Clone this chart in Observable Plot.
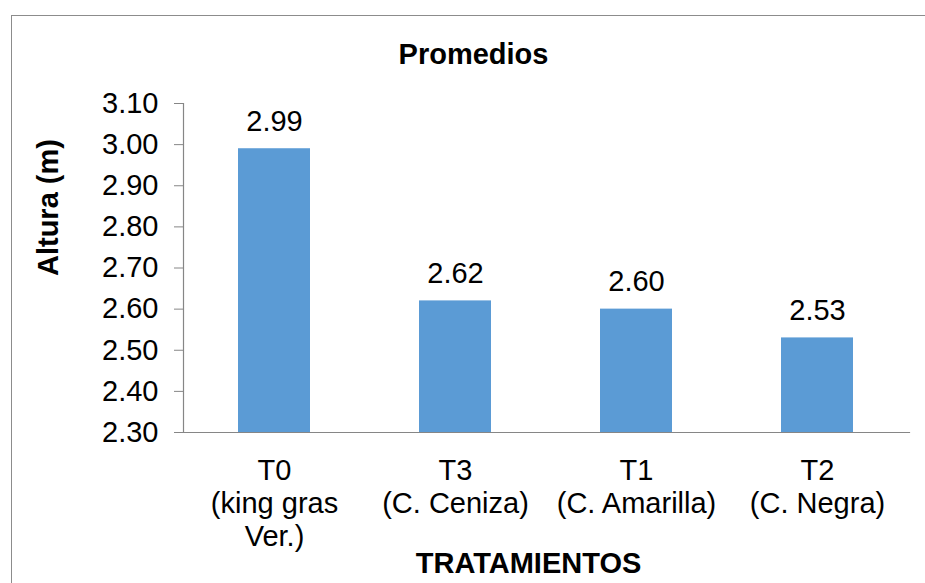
<!DOCTYPE html>
<html>
<head>
<meta charset="utf-8">
<script src="https://cdn.jsdelivr.net/npm/d3@7"></script>
<script src="https://cdn.jsdelivr.net/npm/@observablehq/plot@0.6"></script>
<style>
  html, body { margin: 0; padding: 0; background: #fff; }
  #wrap { position: relative; width: 925px; height: 583px; overflow: hidden; }
  #border { position: absolute; left: 11px; top: 15px; width: 940px; height: 600px;
            border: 1.5px solid #8c8c8c; box-sizing: border-box; pointer-events: none; }
</style>
</head>
<body>
<div id="wrap"><div id="border"></div></div>
<script>
const categories = ["T0", "T3", "T1", "T2"];
const categoryLabels = ["T0\n(king gras\nVer.)", "T3\n(C. Ceniza)", "T1\n(C. Amarilla)", "T2\n(C. Negra)"];
const values = [2.99, 2.62, 2.60, 2.53];
const yTicks = [2.30, 2.40, 2.50, 2.60, 2.70, 2.80, 2.90, 3.00, 3.10];
const title = "Promedios";
const yLabel = "Altura (m)";
const xLabel = "TRATAMIENTOS";

const data = categories.map((c, i) => ({cat: c, label: categoryLabels[i], value: values[i]}));
const labelOf = new Map(data.map(d => [d.cat, d.label]));

const chart = Plot.plot({
  width: 925,
  height: 583,
  marginLeft: 183,
  marginRight: 16,
  marginTop: 103,
  marginBottom: 151,
  style: {fontFamily: "'Liberation Sans', Arial, sans-serif", fontSize: "29px", color: "black", background: "transparent"},
  x: {domain: categories, paddingInner: 0.6, paddingOuter: 0.3},
  y: {domain: [2.3, 3.1]},
  marks: [
    Plot.barY(data, {x: "cat", y1: 2.3, y2: "value", fill: "#5B9BD5"}),
    Plot.frame({anchor: "left", stroke: "#868686", strokeWidth: 1.2}),
    Plot.frame({anchor: "bottom", stroke: "#868686", strokeWidth: 1.2}),
    Plot.axisY({ticks: yTicks, tickFormat: d3.format(".2f"), tickSize: 9, tickPadding: 16, stroke: "#868686", strokeOpacity: 1, fill: "black", label: null}),
    Plot.axisX({tickSize: 0, tickPadding: 24, tickFormat: d => labelOf.get(d), lineHeight: 1.14, fill: "black", label: null}),
    Plot.text(data, {x: "cat", y: "value", text: d => d3.format(".2f")(d.value), lineAnchor: "middle", dy: -27, fill: "black"}),
    Plot.text([title], {frameAnchor: "top", lineAnchor: "middle", dy: -49, dx: -73, fontWeight: "bold", fill: "black"}),
    Plot.text([yLabel], {frameAnchor: "left", rotate: -90, lineAnchor: "middle", dx: -135, dy: 8, fontWeight: "bold", fill: "black"}),
    Plot.text([xLabel], {frameAnchor: "bottom", lineAnchor: "middle", dy: 131, dx: -18, fontWeight: "bold", fill: "black"})
  ]
});
document.getElementById("wrap").insertBefore(chart, document.getElementById("border"));
</script>
</body>
</html>
